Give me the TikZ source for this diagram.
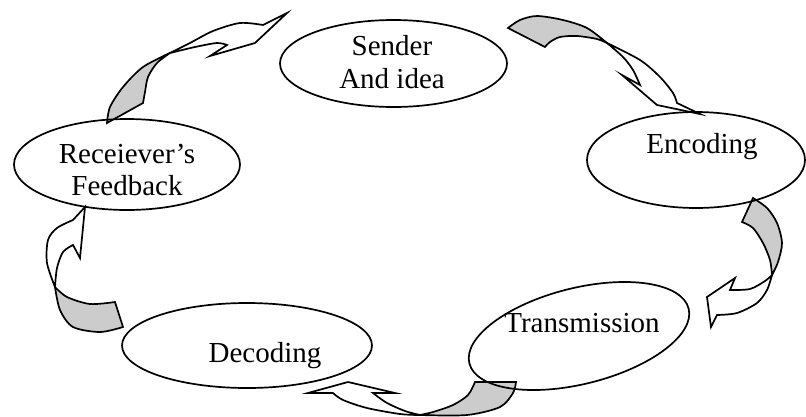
\documentclass[tikz,border=0pt]{standalone}
\usepackage{fontspec}
\setmainfont{Liberation Serif}
\usetikzlibrary{shapes.geometric}
\definecolor{bandgray}{RGB}{204,204,204}
\begin{document}
\begin{tikzpicture}[x=1pt,y=-1pt,line width=1.7pt,
  bub/.style={ellipse,draw,inner sep=0pt},
  lbl/.style={anchor=base,inner sep=0pt,font=\fontsize{29}{33}\selectfont},
  back/.style={draw,fill=bandgray},
  front/.style={draw,fill=white}]
\useasboundingbox (0,0) rectangle (806,416);
% arrow 1: feedback -> sender
\path[back] plot[smooth] coordinates {(107,123) (110,107) (123,87) (143,67) (170,53)}
  -- plot[smooth] coordinates {(170,53) (157,63) (148,77) (145,92) (143,103)} -- cycle;
\path[front] plot[smooth] coordinates {(170,53) (190,43) (213,31) (240,23) (263,25)}
  -- (287,13) -- (255,43) -- (210,56) -- (227,45)
  -- plot[smooth] coordinates {(227,45) (217,43) (195,47) (170,53)} -- cycle;
% arrow 2: sender -> encoding
\path[back] plot[smooth] coordinates {(508,28) (520,20) (537,16) (563,20) (587,28) (607,43)}
  -- plot[smooth] coordinates {(607,43) (597,39) (577,36) (560,37) (550,42) (545,47)} -- cycle;
\path[front] plot[smooth] coordinates {(607,43) (640,60) (660,77) (673,93) (677,103)}
  -- (700,114) -- (657,105) -- (622,75) -- (640,85)
  -- plot[smooth] coordinates {(640,85) (633,70) (623,57) (607,43)} -- cycle;
% arrow 3: encoding -> transmission
\path[back] plot[smooth] coordinates {(753,198) (767,208) (777,223) (782,243) (778,262) (772,275)}
  -- plot[smooth] coordinates {(772,275) (770,260) (763,243) (753,228) (742,222)} -- cycle;
\path[front] plot[smooth] coordinates {(772,275) (767,290) (757,303) (737,313) (717,315)}
  -- (711,327) -- (707,297) -- (735,278) -- (730,290)
  -- plot[smooth] coordinates {(730,290) (750,289) (765,281) (772,275)} -- cycle;
% arrow 4: transmission -> decoding
\path[back] plot[smooth] coordinates {(516,382) (513,393) (500,407) (467,415) (420,415)}
  -- plot[smooth] coordinates {(420,415) (433,412) (453,405) (468,395) (475,382)} -- cycle;
\path[front] plot[smooth] coordinates {(420,415) (400,414) (367,408) (343,400) (333,393)}
  -- (308,393) -- (348,382) -- (395,393) -- (373,393)
  -- plot[smooth] coordinates {(373,393) (387,403) (405,411) (420,415)} -- cycle;
% arrow 5: decoding -> feedback
\path[back] plot[smooth] coordinates {(115,302) (90,304) (67,297) (55,287)}
  -- plot[smooth] coordinates {(55,287) (60,310) (73,327) (100,332) (123,327)} -- cycle;
\path[front] plot[smooth] coordinates {(55,287) (47,263) (48,240) (57,228) (73,220)}
  -- (85,207) -- (80,258) -- (73,245)
  -- plot[smooth] coordinates {(73,245) (63,252) (57,268) (55,287)} -- cycle;
% ellipses
\node[bub,minimum width=227pt,minimum height=87pt] (sender) at (393.5,63.5) {};
\node[bub,minimum width=218pt,minimum height=96pt] (encoding) at (696,160) {};
\node[bub,minimum width=226pt,minimum height=96pt,rotate=14] (trans) at (579,336) {};
\node[bub,minimum width=250pt,minimum height=85pt] (decoding) at (247,345.5) {};
\node[bub,minimum width=226pt,minimum height=91pt] (feedback) at (127,164.5) {};
% labels
\node[lbl] (s1) at (392,55) {Sender};
\node[lbl] (s2) at (392,88) {And idea};
\node[lbl] (e1) at (702,153) {Encoding};
\node[lbl] (t1) at (582,332) {Transmission};
\node[lbl] (d1) at (265,362) {Decoding};
\node[lbl] (f1) at (127,163) {Receiever’s};
\node[lbl] (f2) at (127,195) {Feedback};
\end{tikzpicture}
\end{document}
